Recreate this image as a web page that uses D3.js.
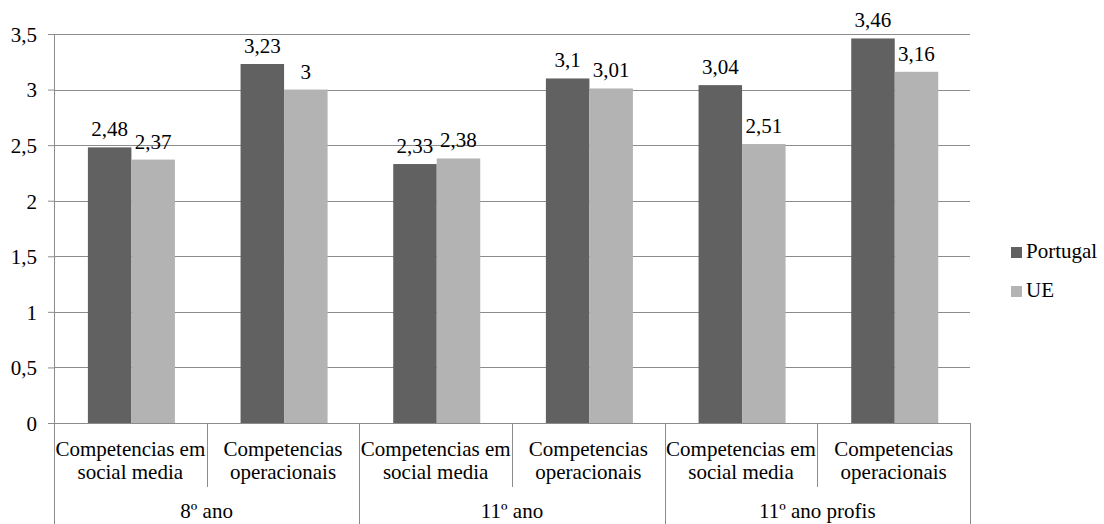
<!DOCTYPE html>
<html>
<head>
<meta charset="utf-8">
<script src="https://cdn.jsdelivr.net/npm/d3@7/dist/d3.min.js"></script>
<style>
  html, body { margin: 0; padding: 0; background: #fff; }
</style>
</head>
<body>
<svg id="chart" width="1104" height="524"></svg>
<script>
// ---- data ----
const groups = ["8º ano", "11º ano", "11º ano profis"];
const subcats = [["Competencias em", "social media"], ["Competencias", "operacionais"]];
const series = ["Portugal", "UE"];
const portugal = [2.48, 3.23, 2.33, 3.10, 3.04, 3.46];
const ue = [2.37, 3.00, 2.38, 3.01, 2.51, 3.16];
const yTicks = [0, 0.5, 1, 1.5, 2, 2.5, 3, 3.5];
const colors = ["#616161", "#b3b3b3"];

// ---- font detection ----
function hasFont(f) {
  const c = document.createElement("canvas").getContext("2d");
  const s = "Competencias em 3,45 Portugal";
  let diff = false;
  ["monospace", "sans-serif"].forEach(fb => {
    c.font = "40px " + fb;
    const a = c.measureText(s).width;
    c.font = `40px "${f}", ${fb}`;
    const b = c.measureText(s).width;
    if (Math.abs(a - b) > 0.5) diff = true;
  });
  return diff;
}
const serifCandidates = ["Liberation Serif", "Times New Roman", "Tinos", "DejaVu Serif", "Noto Serif", "FreeSerif", "Nimbus Roman"];
let fontFamily = null;
for (const f of serifCandidates) { if (hasFont(f)) { fontFamily = f; break; } }
const isSerif = fontFamily !== null;
if (!isSerif) fontFamily = "Liberation Sans";
const fs = isSerif ? 21 : 17;

// ---- layout ----
const svg = d3.select("#chart").style("font-family", `"${fontFamily}", serif`);
const plot = { left: 54, right: 970, top: 34, bottom: 423 };
const fmt = d3.formatLocale({ decimal: ",", thousands: ".", grouping: [3], currency: ["", "€"] }).format("~g");

const cats = [];
groups.forEach((g, gi) => subcats.forEach((s, si) => cats.push({ id: gi + "-" + si, g, gi, s, si })));
const rows = cats.map((c, i) => ({ ...c, values: [portugal[i], ue[i]] }));

const x0 = d3.scaleBand().domain(cats.map(c => c.id)).range([plot.left, plot.right]).paddingInner(0).paddingOuter(0);
const bw = x0.bandwidth();
const x1 = d3.scaleBand().domain(series).range([bw * 0.222, bw * 0.792]);
const y = d3.scaleLinear().domain([0, 3.5]).range([plot.bottom, plot.top]);

const gridColor = "#8c8c8c";

// y ticks
const yAxis = d3.axisLeft(y).tickValues(yTicks).tickFormat(fmt).tickSize(6).tickPadding(11);
const ga = svg.append("g").attr("transform", `translate(${plot.left},0)`).call(yAxis);
ga.attr("font-family", null).attr("font-size", null);
ga.select(".domain").remove();
ga.selectAll(".tick line").attr("stroke", gridColor);
ga.selectAll(".tick text").attr("font-size", fs).attr("fill", "#000").attr("dy", "0.35em");

// gridlines
svg.append("g").selectAll("line").data(yTicks.filter(t => t > 0)).join("line")
  .attr("x1", plot.left).attr("x2", plot.right)
  .attr("y1", d => Math.round(y(d)) + 0.5).attr("y2", d => Math.round(y(d)) + 0.5)
  .attr("stroke", gridColor).attr("stroke-width", 1);

// bars
const gBars = svg.append("g");
rows.forEach(r => {
  const gg = gBars.append("g").attr("transform", `translate(${x0(r.id)},0)`);
  const d2 = r.values.map((v, i) => ({ v, s: series[i], i }));
  gg.selectAll("rect").data(d2).join("rect")
    .attr("x", d => x1(d.s)).attr("width", x1.bandwidth())
    .attr("y", d => y(d.v)).attr("height", d => y(0) - y(d.v))
    .attr("fill", d => colors[d.i]);
  gg.selectAll("text").data(d2).join("text")
    .attr("x", d => x1(d.s) + x1.bandwidth() / 2)
    .attr("y", d => y(d.v) - 11)
    .attr("text-anchor", "middle").attr("font-size", fs).attr("fill", "#000")
    .text(d => fmt(d.v));
});

// x axis baseline
svg.append("line").attr("x1", plot.left - 6).attr("x2", plot.right)
  .attr("y1", Math.round(y(0)) + 0.5).attr("y2", Math.round(y(0)) + 0.5).attr("stroke", gridColor);
// y axis line
svg.append("line").attr("x1", plot.left + 0.5).attr("x2", plot.left + 0.5)
  .attr("y1", plot.top).attr("y2", 524).attr("stroke", gridColor);

// category dividers and labels
const gx = svg.append("g");
cats.forEach(c => {
  const xr = x0(c.id) + bw;
  const isGroupEnd = c.si === subcats.length - 1;
  gx.append("line").attr("x1", Math.round(xr) + 0.5).attr("x2", Math.round(xr) + 0.5)
    .attr("y1", plot.bottom).attr("y2", isGroupEnd ? 524 : 487)
    .attr("stroke", gridColor);
  const t = gx.append("text").attr("text-anchor", "middle").attr("font-size", fs).attr("fill", "#000");
  c.s.forEach((line, li) => {
    t.append("tspan").attr("x", x0(c.id) + bw / 2).attr("y", 456 + li * 23).text(line);
  });
});
// group labels
groups.forEach((g, gi) => {
  const a = x0(gi + "-0"), b = x0(gi + "-" + (subcats.length - 1)) + bw;
  gx.append("text").attr("x", (a + b) / 2).attr("y", 518).attr("text-anchor", "middle")
    .attr("font-size", fs).attr("fill", "#000").text(g);
});

// legend
const lg = svg.append("g").attr("transform", "translate(1011,247)");
series.forEach((s, i) => {
  const row = lg.append("g").attr("transform", `translate(0,${i * 39})`);
  row.append("rect").attr("width", 11).attr("height", 11).attr("fill", colors[i]);
  row.append("text").attr("x", 15).attr("y", 11).attr("font-size", fs).attr("fill", "#000").text(s);
});
</script>
</body>
</html>
